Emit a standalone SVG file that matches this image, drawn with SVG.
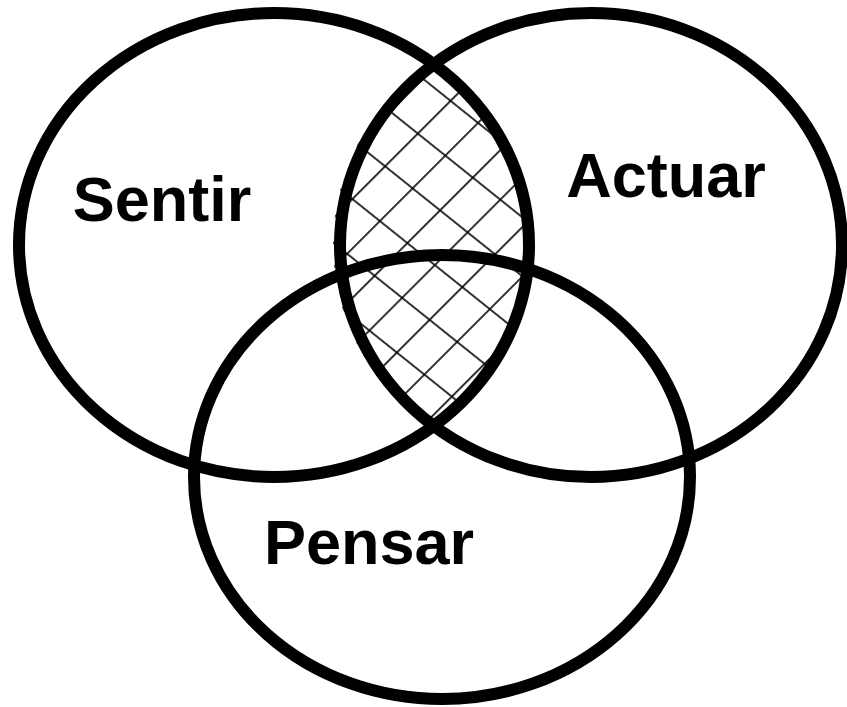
<svg xmlns="http://www.w3.org/2000/svg" width="847" height="707" viewBox="0 0 847 707">
  <style>
    .ring { fill: none; stroke: #000; stroke-width: 12; }
    .label { font-family: "Liberation Sans", Arial, sans-serif; font-weight: bold; font-size: 63px; fill: #000; text-anchor: middle; }
  </style>
  <defs>
    <pattern id="hatchA" patternUnits="userSpaceOnUse" width="200" height="35" patternTransform="rotate(-45)">
      <rect x="0" y="4.1" width="200" height="1.6" fill="#000"/>
    </pattern>
    <pattern id="hatchB" patternUnits="userSpaceOnUse" width="200" height="46" patternTransform="rotate(38.7)">
      <rect x="0" y="26.2" width="200" height="1.6" fill="#000"/>
    </pattern>
    <clipPath id="clipLeft">
      <ellipse cx="274" cy="245" rx="255" ry="232"/>
    </clipPath>
    <clipPath id="clipRight">
      <ellipse cx="584" cy="245" rx="251" ry="232"/>
    </clipPath>
  </defs>
  <rect width="847" height="707" fill="#fff"/>
  <g id="interseccion" clip-path="url(#clipLeft)">
    <g clip-path="url(#clipRight)">
      <rect x="300" y="40" width="260" height="420" fill="url(#hatchA)"/>
      <rect x="300" y="40" width="260" height="420" fill="url(#hatchB)"/>
    </g>
  </g>
  <g id="sentir">
    <ellipse class="ring" cx="274" cy="245" rx="255" ry="232"/>
    <text class="label" x="162" y="221">Sentir</text>
  </g>
  <g id="actuar">
    <ellipse class="ring" cx="591" cy="245" rx="251" ry="232"/>
    <text class="label" x="666" y="197">Actuar</text>
  </g>
  <g id="pensar">
    <ellipse class="ring" cx="442" cy="477" rx="248" ry="222"/>
    <text class="label" x="369" y="564">Pensar</text>
  </g>
</svg>
